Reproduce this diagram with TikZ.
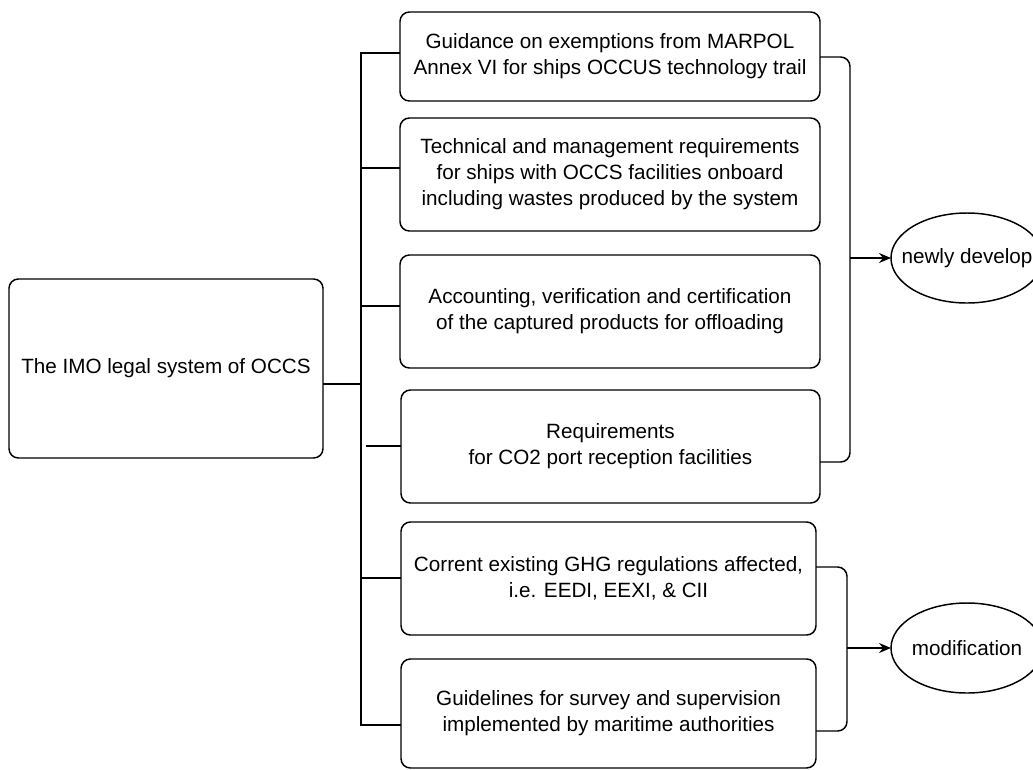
\documentclass[tikz,border=0pt]{standalone}
\usepackage{fontspec}
\setmainfont{Liberation Sans}
\usetikzlibrary{shapes.geometric,arrows.meta}
\newcommand\mybox[6]{%
  \pgfmathsetmacro\bw{(#3-#2)*0.75}%
  \pgfmathsetmacro\bh{(#5-#4)*0.75}%
  \node[box, minimum width=\bw pt, minimum height=\bh pt] (#1) at ({(#2+#3)/2},{(#4+#5)/2}) {#6};}
\begin{document}
\begin{tikzpicture}[x=0.75pt,y=-0.75pt,
  box/.style={draw, line width=1.1pt, rounded corners=7pt, inner sep=0pt, outer sep=0pt, align=center,
    font=\fontsize{15.5}{19.5}\selectfont},
  oval/.style={draw, line width=1.1pt, ellipse, inner sep=0pt, outer sep=0pt, minimum width=114pt, minimum height=67.5pt},
  conn/.style={line width=1.1pt},
  bracket/.style={line width=1.1pt, rounded corners=7pt},
  arr/.style={line width=1.1pt, -{Stealth[length=9pt,width=7.5pt,inset=3pt]}},
  lab/.style={font=\fontsize{15.5}{19.5}\selectfont}]
\clip (0,0) rectangle (1033,769);
\useasboundingbox (0,0) rectangle (1033,769);

\mybox{L}{9}{323}{279}{458}{The IMO legal system of OCCS}
\mybox{b1}{400}{820}{12}{101}{Guidance on exemptions from MARPOL\\Annex VI for ships OCCUS technology trail}
\mybox{b2}{400}{820}{118}{231}{Technical and management requirements\\for ships with OCCS facilities onboard\\including wastes produced by the system}
\mybox{b3}{400}{820}{255}{368}{Accounting, verification and certification\\of the captured products for offloading}
\mybox{b4}{401}{820}{390}{503}{Requirements\\for CO2 port reception facilities}
\mybox{b5}{401}{816}{522}{635}{Corrent existing GHG regulations affected,\\i.e. EEDI, EEXI, \& CII}
\mybox{b6}{401}{816}{659}{768}{Guidelines for survey and supervision\\implemented by maritime authorities}

\node[oval, label={[lab]center:newly develop}] (e1) at (967,258) {};
\node[oval, label={[lab]center:modification}] (e2) at (967,648) {};

% spine and branches
\coordinate (s1) at (361,53);
\coordinate (s2) at (361,168);
\coordinate (s3) at (361,306);
\coordinate (s4) at (366,446);
\coordinate (s5) at (361,578);
\coordinate (s6) at (361,725);
\coordinate (j) at (361,384);
\draw[conn] (s1 -| b1.west) -- (s1) -- (s6) -- (s6 -| b6.west);
\draw[conn] (s2) -- (s2 -| b2.west);
\draw[conn] (s3) -- (s3 -| b3.west);
\draw[conn] (s4) -- (s4 -| b4.west);
\draw[conn] (s5) -- (s5 -| b5.west);
\draw[conn] (j -| L.east) -- (j);

% right brackets
\coordinate (r1t) at (850,57);
\coordinate (r1b) at (850,462);
\coordinate (r1m) at (850,258);
\draw[bracket] (r1t -| b1.east) -- (r1t) -- (r1b) -- (r1b -| b4.east);
\draw[arr] (r1m) -- (e1.west);

\coordinate (r2t) at (847,567);
\coordinate (r2b) at (847,731);
\coordinate (r2m) at (847,648);
\draw[bracket] (r2t -| b5.east) -- (r2t) -- (r2b) -- (r2b -| b6.east);
\draw[arr] (r2m) -- (e2.west);
\end{tikzpicture}
\end{document}
